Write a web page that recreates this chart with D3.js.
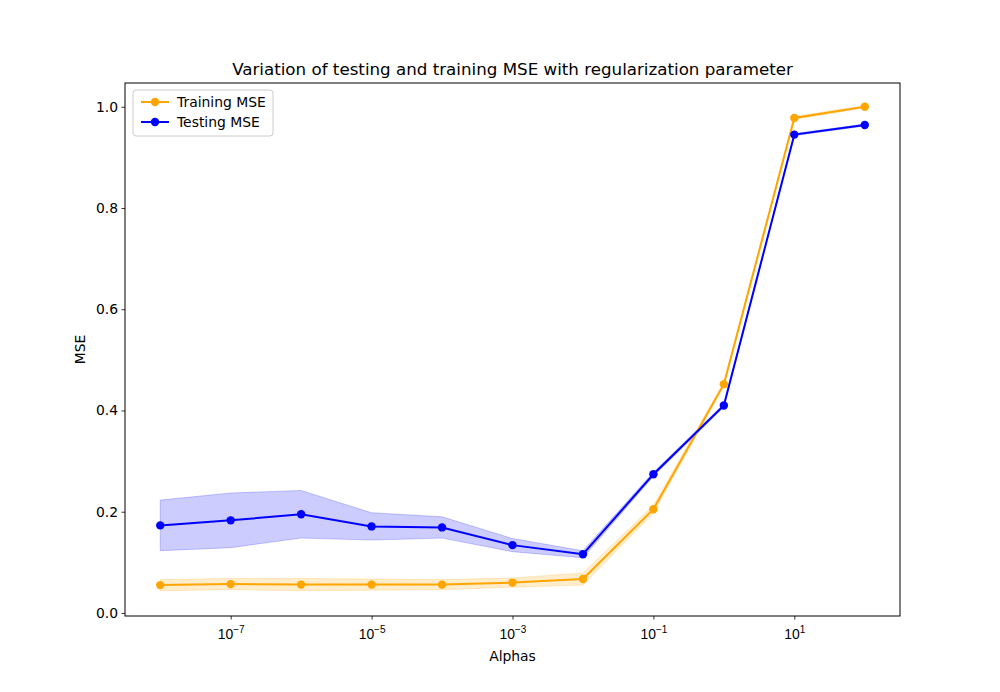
<!DOCTYPE html>
<html>
<head>
<meta charset="utf-8">
<script src="https://cdn.jsdelivr.net/npm/d3@7"></script>
<style>
  body { margin: 0; background: #fff; }
  svg { font-family: "DejaVu Sans", sans-serif; }
</style>
</head>
<body>
<div class="container"></div>
<script>
var width = 1000;
var height = 692;
var plotLeft = 125, plotRight = 900, plotTop = 83, plotBottom = 616;

// data
var alphas = [1e-8, 1e-7, 1e-6, 1e-5, 1e-4, 1e-3, 1e-2, 1e-1, 1e0, 1e1, 1e2];
var trainMean = [0.055, 0.057, 0.056, 0.056, 0.056, 0.060, 0.067, 0.205, 0.452, 0.978, 1.000];
var trainStd = [0.011, 0.011, 0.012, 0.011, 0.010, 0.009, 0.012, 0.008, 0.004, 0.003, 0.002];
var testMean = [0.173, 0.183, 0.195, 0.171, 0.169, 0.134, 0.116, 0.274, 0.410, 0.945, 0.964];
var testStd = [0.050, 0.054, 0.047, 0.027, 0.021, 0.013, 0.007, 0.004, 0.003, 0.002, 0.002];
var xTicks = [1e-7, 1e-5, 1e-3, 1e-1, 1e1];
var yTicks = [0.0, 0.2, 0.4, 0.6, 0.8, 1.0];

var XScale = d3.scaleLog()
    .domain([Math.pow(10, -8.5), Math.pow(10, 2.5)])
    .range([plotLeft, plotRight]);

var YScale = d3.scaleLinear()
    .domain([-0.006, 1.047])
    .range([plotBottom, plotTop]);

var translate = function(x, y) {
    return 'translate(' + x + ',' + y + ')';
};

var svg = d3.select('.container').append('svg')
    .attr('width', width)
    .attr('height', height);

var series = [
    {name: 'Training MSE', color: 'orange', mean: trainMean, std: trainStd},
    {name: 'Testing MSE', color: 'blue', mean: testMean, std: testStd}
];

var area = d3.area()
    .x(function(d) { return XScale(d.x); })
    .y0(function(d) { return YScale(d.m - d.s); })
    .y1(function(d) { return YScale(d.m + d.s); });

var line = d3.line()
    .x(function(d) { return XScale(d.x); })
    .y(function(d) { return YScale(d.m); });

var plot = svg.append('g');

series.forEach(function(s) {
    var pts = alphas.map(function(a, i) { return {x: a, m: s.mean[i], s: s.std[i]}; });
    s.pts = pts;
    plot.append('path')
        .attr('d', area(pts))
        .attr('fill', s.color)
        .attr('fill-opacity', 0.2)
        .attr('stroke', s.color)
        .attr('stroke-opacity', 0.2)
        .attr('stroke-width', 1);
});

series.forEach(function(s) {
    plot.append('path')
        .attr('d', line(s.pts))
        .attr('fill', 'none')
        .attr('stroke', s.color)
        .attr('stroke-width', 2);
    plot.selectAll(null).data(s.pts).enter().append('circle')
        .attr('cx', function(d) { return XScale(d.x); })
        .attr('cy', function(d) { return YScale(d.m); })
        .attr('r', 4.2)
        .attr('fill', s.color);
});

// axes
var xAxis = d3.axisBottom(XScale).tickValues(xTicks).tickSize(3.5).tickPadding(3.5).tickFormat('');
var yAxis = d3.axisLeft(YScale).tickValues(yTicks).tickSize(3.5).tickPadding(3.5).tickFormat(d3.format('.1f'));

var gx = svg.append('g').attr('transform', translate(0, plotBottom)).call(xAxis);
var gy = svg.append('g').attr('transform', translate(plotLeft, 0)).call(yAxis);

[gx, gy].forEach(function(g) {
    g.select('.domain').remove();
    g.selectAll('.tick line').attr('stroke', '#000').attr('stroke-width', 0.8);
    g.selectAll('.tick text').attr('font-size', 13.9).attr('fill', '#000')
        .attr('font-family', '"DejaVu Sans", sans-serif');
});

// log tick labels with superscript exponents
gx.selectAll('.tick').each(function(d) {
    var e = Math.round(Math.log10(d));
    var t = d3.select(this).append('text')
        .attr('y', 23)
        .attr('text-anchor', 'middle')
        .attr('font-size', 13.9)
        .attr('fill', '#000');
    t.append('tspan').text('10');
    t.append('tspan')
        .attr('dy', -6)
        .attr('font-size', 10)
        .text(e < 0 ? '\u2212' + (-e) : String(e));
});

// frame
svg.append('rect')
    .attr('x', plotLeft).attr('y', plotTop)
    .attr('width', plotRight - plotLeft).attr('height', plotBottom - plotTop)
    .attr('fill', 'none')
    .attr('stroke', '#000')
    .attr('stroke-width', 1);

// labels
svg.append('text')
    .attr('x', (plotLeft + plotRight) / 2).attr('y', 75)
    .attr('text-anchor', 'middle')
    .attr('font-size', 16.7)
    .text('Variation of testing and training MSE with regularization parameter');

svg.append('text')
    .attr('x', (plotLeft + plotRight) / 2).attr('y', 661)
    .attr('text-anchor', 'middle')
    .attr('font-size', 13.9)
    .text('Alphas');

svg.append('text')
    .attr('transform', translate(85, (plotTop + plotBottom) / 2) + ' rotate(-90)')
    .attr('text-anchor', 'middle')
    .attr('font-size', 13.9)
    .text('MSE');

// legend
var legend = svg.append('g').attr('transform', translate(133, 90));
legend.append('rect')
    .attr('width', 140).attr('height', 46)
    .attr('rx', 3)
    .attr('fill', '#fff').attr('fill-opacity', 0.8)
    .attr('stroke', '#ccc');
series.forEach(function(s, i) {
    var y = 12 + i * 20;
    legend.append('line')
        .attr('x1', 8).attr('x2', 36).attr('y1', y).attr('y2', y)
        .attr('stroke', s.color).attr('stroke-width', 2);
    legend.append('circle')
        .attr('cx', 22).attr('cy', y).attr('r', 4.2).attr('fill', s.color);
    legend.append('text')
        .attr('x', 44).attr('y', y + 5)
        .attr('font-size', 13.9)
        .text(s.name);
});
</script>
</body>
</html>
